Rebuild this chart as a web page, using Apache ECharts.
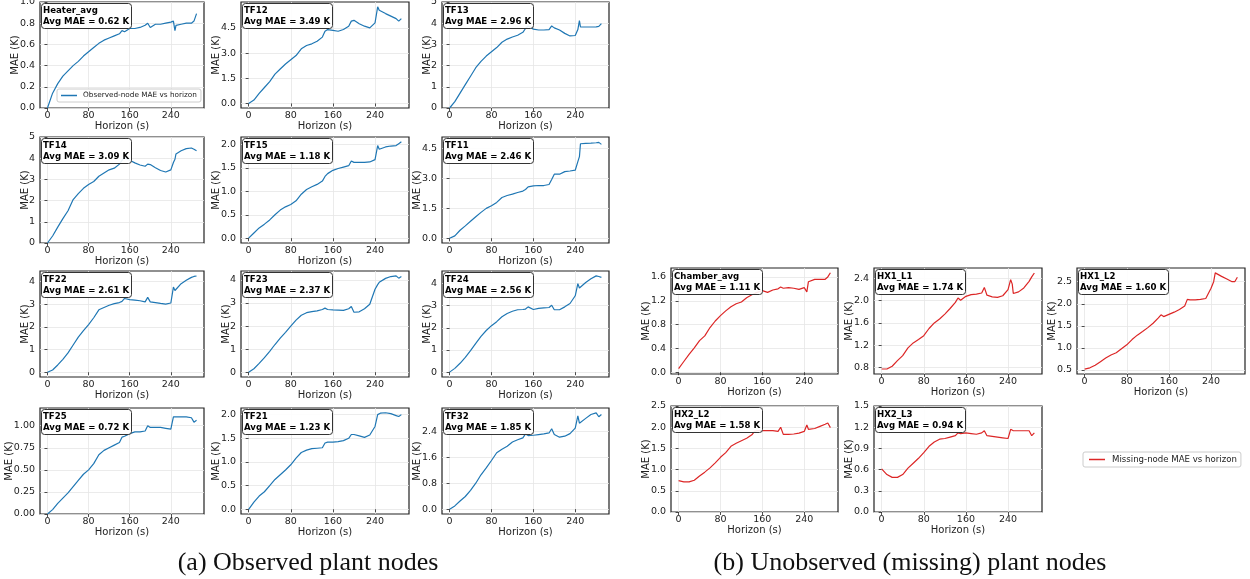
<!DOCTYPE html>
<html>
<head>
<meta charset="utf-8">
<title>MAE vs horizon</title>
<script src="https://cdn.jsdelivr.net/npm/echarts@6.0.0/dist/echarts.min.js"></script>
<style>
  html, body { margin: 0; padding: 0; background: #fff; }
  #chart { width: 1250px; height: 579px; }
</style>
</head>
<body>
<div id="chart"></div>
<script>
// horizon in seconds, shared by every panel
var horizon = [0, 10, 20, 30, 40, 50, 60, 70, 80, 90, 100, 110, 120, 130, 140, 145, 150, 160, 170, 180,
  190, 195, 200, 210, 220, 230, 240, 245, 248, 250, 260, 270, 280, 285, 290];
var xTicks = [0, 80, 160, 240];

// observed nodes
var heaterAvg = [0, 0.14, 0.23, 0.30, 0.35, 0.40, 0.44, 0.49, 0.53, 0.57, 0.61, 0.64, 0.66, 0.68, 0.70, 0.73, 0.72, 0.75, 0.75, 0.76,
  0.78, 0.80, 0.76, 0.79, 0.79, 0.80, 0.81, 0.82, 0.73, 0.78, 0.79, 0.80, 0.80, 0.82, 0.89];
var tf12 = [0, 0.2, 0.6, 0.95, 1.3, 1.75, 2.05, 2.35, 2.6, 2.85, 3.25, 3.45, 3.55, 3.7, 3.95, 4.3, 4.4, 4.35, 4.3, 4.4,
  4.6, 4.9, 4.95, 4.75, 4.6, 4.5, 4.8, 5.75, 5.55, 5.5, 5.35, 5.2, 5.05, 4.9, 5.05];
var tf13 = [0, 0.3, 0.7, 1.1, 1.5, 1.9, 2.2, 2.45, 2.65, 2.85, 3.1, 3.25, 3.35, 3.43, 3.57, 3.75, 3.87, 3.72, 3.68, 3.68,
  3.7, 3.87, 3.78, 3.68, 3.52, 3.4, 3.42, 3.7, 4.12, 3.82, 3.82, 3.82, 3.83, 3.85, 3.98];
var tf14 = [0, 0.33, 0.75, 1.15, 1.52, 2.05, 2.33, 2.58, 2.76, 2.9, 3.15, 3.3, 3.45, 3.53, 3.72, 3.9, 4.05, 3.9, 3.78, 3.68,
  3.62, 3.72, 3.7, 3.55, 3.42, 3.35, 3.45, 3.8, 3.95, 4.2, 4.35, 4.45, 4.48, 4.42, 4.35];
var tf15 = [0, 0.11, 0.22, 0.3, 0.39, 0.5, 0.6, 0.67, 0.72, 0.8, 0.94, 1.04, 1.1, 1.15, 1.22, 1.32, 1.38, 1.45, 1.49, 1.52,
  1.55, 1.65, 1.62, 1.62, 1.62, 1.63, 1.68, 1.98, 1.9, 1.92, 1.95, 1.97, 1.98, 2.02, 2.06];
var tf11 = [0, 0.12, 0.4, 0.62, 0.85, 1.08, 1.3, 1.5, 1.63, 1.8, 2.05, 2.15, 2.22, 2.3, 2.37, 2.45, 2.58, 2.63, 2.65, 2.65,
  2.7, 2.95, 3.22, 3.22, 3.35, 3.38, 3.42, 3.85, 4.1, 4.75, 4.77, 4.78, 4.8, 4.82, 4.72];
var tf22 = [0, 0.1, 0.32, 0.57, 0.85, 1.2, 1.55, 1.83, 2.1, 2.4, 2.75, 2.85, 2.95, 3.02, 3.07, 3.12, 3.25, 3.2, 3.18, 3.15,
  3.1, 3.3, 3.1, 3.07, 3.03, 3.0, 3.05, 3.75, 3.6, 3.55, 3.9, 4.05, 4.18, 4.22, 4.24];
var tf23 = [0, 0.15, 0.38, 0.63, 0.9, 1.2, 1.48, 1.73, 2.0, 2.26, 2.47, 2.58, 2.63, 2.66, 2.72, 2.78, 2.72, 2.7, 2.69, 2.68,
  2.75, 2.85, 2.6, 2.62, 2.75, 2.95, 3.6, 3.8, 3.9, 3.95, 4.07, 4.15, 4.18, 4.08, 4.15];
var tf24 = [0, 0.17, 0.4, 0.67, 0.97, 1.3, 1.62, 1.88, 2.1, 2.28, 2.5, 2.65, 2.75, 2.82, 2.83, 2.85, 2.95, 2.83, 2.88, 2.9,
  2.92, 3.02, 2.82, 2.82, 2.95, 3.1, 3.45, 4.0, 3.8, 3.85, 4.05, 4.22, 4.35, 4.32, 4.28];
var tf25 = [0, 0.05, 0.12, 0.18, 0.24, 0.31, 0.38, 0.45, 0.5, 0.57, 0.67, 0.72, 0.75, 0.78, 0.81, 0.87, 0.88, 0.91, 0.93, 0.93,
  0.94, 1.0, 0.98, 0.98, 0.98, 0.97, 0.96, 1.1, 1.09, 1.1, 1.1, 1.1, 1.09, 1.04, 1.06];
var tf21 = [0, 0.15, 0.28, 0.37, 0.5, 0.63, 0.73, 0.83, 0.94, 1.08, 1.2, 1.25, 1.28, 1.29, 1.3, 1.4, 1.42, 1.42, 1.43, 1.45,
  1.5, 1.58, 1.58, 1.55, 1.52, 1.57, 1.75, 2.0, 2.02, 2.03, 2.04, 2.02, 1.98, 1.96, 2.0];
var tf32 = [0, 0.1, 0.25, 0.39, 0.58, 0.8, 1.06, 1.27, 1.5, 1.74, 1.85, 1.94, 2.07, 2.14, 2.2, 2.32, 2.27, 2.28, 2.3, 2.32,
  2.35, 2.48, 2.3, 2.22, 2.25, 2.33, 2.5, 2.88, 2.65, 2.65, 2.8, 2.92, 2.97, 2.85, 2.92];

// unobserved (missing) nodes
var chamberAvg = [0.06, 0.18, 0.3, 0.41, 0.53, 0.61, 0.75, 0.86, 0.95, 1.03, 1.1, 1.15, 1.18, 1.25, 1.3, 1.32, 1.34, 1.37, 1.34, 1.38,
  1.4, 1.43, 1.41, 1.42, 1.41, 1.39, 1.42, 1.35, 1.52, 1.55, 1.56, 1.56, 1.56, 1.6, 1.67];
var hx1L1 = [0.77, 0.77, 0.82, 0.92, 1.01, 1.15, 1.24, 1.3, 1.37, 1.5, 1.6, 1.67, 1.76, 1.86, 1.97, 2.05, 2.01, 2.08, 2.11, 2.12,
  2.14, 2.24, 2.1, 2.07, 2.06, 2.09, 2.2, 2.38, 2.3, 2.13, 2.16, 2.23, 2.35, 2.43, 2.5];
var hx1L2 = [0.52, 0.55, 0.61, 0.69, 0.77, 0.84, 0.89, 0.98, 1.07, 1.19, 1.29, 1.37, 1.46, 1.56, 1.68, 1.75, 1.71, 1.76, 1.81, 1.87,
  1.95, 2.1, 2.09, 2.09, 2.1, 2.12, 2.35, 2.5, 2.7, 2.67, 2.62, 2.56, 2.5, 2.5, 2.6];
var hx2L2 = [0.74, 0.71, 0.71, 0.75, 0.85, 0.94, 1.04, 1.16, 1.29, 1.4, 1.55, 1.62, 1.68, 1.74, 1.82, 1.9, 1.92, 1.92, 1.92, 1.92,
  1.9, 2.0, 1.83, 1.83, 1.84, 1.86, 1.9, 2.05, 1.95, 1.93, 1.97, 2.02, 2.07, 2.1, 1.99];
var hx2L3 = [0.61, 0.53, 0.49, 0.49, 0.53, 0.62, 0.69, 0.76, 0.84, 0.93, 0.99, 1.03, 1.04, 1.06, 1.08, 1.12, 1.11, 1.12, 1.11, 1.1,
  1.12, 1.15, 1.08, 1.07, 1.06, 1.05, 1.04, 1.17, 1.15, 1.15, 1.15, 1.15, 1.15, 1.08, 1.12];

var obsName = 'Observed-node MAE vs horizon';
var misName = 'Missing-node MAE vs horizon';

var panels = [
  { name: 'Heater_avg', avg: '0.62', data: heaterAvg, ticks: [0, 0.2, 0.4, 0.6, 0.8, 1.0], dec: 1, range: [0, 1], grp: 'obs', col: 0, row: 0 },
  { name: 'TF12', avg: '3.49', data: tf12, ticks: [0, 1.5, 3, 4.5], dec: 1, range: [-0.27, 6.04], grp: 'obs', col: 1, row: 0 },
  { name: 'TF13', avg: '2.96', data: tf13, ticks: [0, 1, 2, 3, 4, 5], dec: 0, range: [0, 5], grp: 'obs', col: 2, row: 0 },
  { name: 'TF14', avg: '3.09', data: tf14, ticks: [0, 1, 2, 3, 4, 5], dec: 0, range: [0, 5], grp: 'obs', col: 0, row: 1 },
  { name: 'TF15', avg: '1.18', data: tf15, ticks: [0, 0.5, 1, 1.5, 2], dec: 1, range: [-0.103, 2.163], grp: 'obs', col: 1, row: 1 },
  { name: 'TF11', avg: '2.46', data: tf11, ticks: [0, 1.5, 3, 4.5], dec: 1, range: [-0.24, 5.09], grp: 'obs', col: 2, row: 1 },
  { name: 'TF22', avg: '2.61', data: tf22, ticks: [0, 1, 2, 3, 4], dec: 0, range: [-0.21, 4.46], grp: 'obs', col: 0, row: 2 },
  { name: 'TF23', avg: '2.37', data: tf23, ticks: [0, 1, 2, 3, 4], dec: 0, range: [-0.21, 4.39], grp: 'obs', col: 1, row: 2 },
  { name: 'TF24', avg: '2.56', data: tf24, ticks: [0, 1, 2, 3, 4], dec: 0, range: [-0.22, 4.57], grp: 'obs', col: 2, row: 2 },
  { name: 'TF25', avg: '0.72', data: tf25, ticks: [0, 0.25, 0.5, 0.75, 1], dec: 2, range: [0, 1.2], grp: 'obs', col: 0, row: 3 },
  { name: 'TF21', avg: '1.23', data: tf21, ticks: [0, 0.5, 1, 1.5, 2], dec: 1, range: [-0.1, 2.14], grp: 'obs', col: 1, row: 3 },
  { name: 'TF32', avg: '1.85', data: tf32, ticks: [0, 0.8, 1.6, 2.4], dec: 1, range: [-0.15, 3.12], grp: 'obs', col: 2, row: 3 },
  { name: 'Chamber_avg', avg: '1.11', data: chamberAvg, ticks: [0, 0.4, 0.8, 1.2, 1.6], dec: 1, range: [-0.03, 1.75], grp: 'mis', col: 0, row: 0 },
  { name: 'HX1_L1', avg: '1.74', data: hx1L1, ticks: [0.8, 1.2, 1.6, 2.0, 2.4], dec: 1, range: [0.68, 2.59], grp: 'mis', col: 1, row: 0 },
  { name: 'HX1_L2', avg: '1.60', data: hx1L2, ticks: [0.5, 1, 1.5, 2, 2.5], dec: 1, range: [0.41, 2.81], grp: 'mis', col: 2, row: 0 },
  { name: 'HX2_L2', avg: '1.58', data: hx2L2, ticks: [0, 0.5, 1, 1.5, 2, 2.5], dec: 1, range: [0, 2.5], grp: 'mis', col: 0, row: 1 },
  { name: 'HX2_L3', avg: '0.94', data: hx2L3, ticks: [0, 0.3, 0.6, 0.9, 1.2, 1.5], dec: 1, range: [0, 1.5], grp: 'mis', col: 1, row: 1 }
];

// layout of the two panel blocks (px)
var layout = {
  obs: { cols: [[40, 164], [241, 168], [442, 167]], rows: [2, 137, 271, 408], color: '#1f77b4', series: obsName },
  mis: { cols: [[671, 167], [874, 168], [1077, 168]], rows: [268, 406], color: '#dc2626', series: misName }
};
var panelH = 106;
var font = 'DejaVu Sans';
var ink = '#222';
var gridColor = '#e6e6e6';
var tickSize = 9.5;
var xMin = -0.05 * horizon[horizon.length - 1];
var xMax = 1.05 * horizon[horizon.length - 1];

function labelWidth(s, size) {
  var w = 0;
  for (var k = 0; k < s.length; k++) w += (s[k] === '.' ? 0.318 : 0.636);
  return w * size;
}

var option = {
  animation: false,
  backgroundColor: '#fff',
  grid: [], xAxis: [], yAxis: [], series: [], title: [],
  legend: [],
  graphic: []
};

panels.forEach(function(p, i) {
  var L = layout[p.grp];
  var left = L.cols[p.col][0], width = L.cols[p.col][1], top = L.rows[p.row];
  option.grid.push({
    left: left, top: top, width: width, height: panelH,
    show: true, borderColor: '#222', borderWidth: 1.2, backgroundColor: 'transparent',
    containLabel: false, outerBoundsMode: 'none'
  });
  option.xAxis.push({
    type: 'value', gridIndex: i, min: xMin, max: xMax,
    name: 'Horizon (s)', nameLocation: 'middle', nameGap: 13, nameMoveOverlap: false,
    nameTextStyle: { fontSize: 10, color: ink, fontFamily: font },
    axisLine: { show: false },
    axisTick: { show: true, length: 3, customValues: xTicks, lineStyle: { color: '#222', width: 0.8 } },
    axisLabel: { customValues: xTicks, fontSize: tickSize, margin: 3, color: ink, fontFamily: font },
    splitLine: { show: true, lineStyle: { color: gridColor, width: 0.8 } }
  });
  var maxW = 0;
  p.ticks.forEach(function(t) { maxW = Math.max(maxW, labelWidth(t.toFixed(p.dec), tickSize)); });
  option.yAxis.push({
    type: 'value', gridIndex: i, min: p.range[0], max: p.range[1],
    name: 'MAE (K)', nameLocation: 'middle', nameGap: maxW + 4, nameMoveOverlap: false,
    nameTextStyle: { fontSize: 10, color: ink, fontFamily: font },
    axisLine: { show: false },
    axisTick: { show: true, length: 3, customValues: p.ticks, lineStyle: { color: '#222', width: 0.8 } },
    axisLabel: {
      customValues: p.ticks, fontSize: tickSize, margin: 5, color: ink, fontFamily: font,
      formatter: (function(dec) { return function(v) { return Number(v).toFixed(dec); }; })(p.dec)
    },
    splitLine: { show: true, lineStyle: { color: gridColor, width: 0.8 } }
  });
  option.series.push({
    type: 'line', name: L.series, xAxisIndex: i, yAxisIndex: i,
    data: horizon.map(function(h, k) { return [h, p.data[k]]; }),
    symbol: 'none', showSymbol: false,
    lineStyle: { color: L.color, width: 1.2 }, itemStyle: { color: L.color },
    z: 3
  });
  option.title.push({
    text: p.name + '\nAvg MAE = ' + p.avg + ' K',
    left: left + 1, top: top + 1,
    padding: [2, 3, 2, 2],
    backgroundColor: 'rgba(255,255,255,0.9)',
    borderColor: '#333', borderWidth: 1, borderRadius: 3,
    textStyle: { fontSize: 8.6, fontWeight: 'bold', lineHeight: 11, color: '#000', fontFamily: font },
    z: 10
  });
});

option.legend.push({
  data: [obsName], left: 57, top: 89, selectedMode: false,
  padding: [3, 4, 3, 4], itemWidth: 16, itemHeight: 1.5, icon: 'rect', itemGap: 4,
  backgroundColor: 'rgba(255,255,255,0.85)', borderColor: '#ccc', borderWidth: 1, borderRadius: 2,
  textStyle: { fontSize: 7.3, color: ink, fontFamily: font, padding: [0, 0, 0, 1] }
});
option.legend.push({
  data: [misName], left: 1083, top: 452, selectedMode: false,
  padding: [3, 4, 3, 6], itemWidth: 16, itemHeight: 1.5, icon: 'rect', itemGap: 4,
  backgroundColor: '#fff', borderColor: '#ccc', borderWidth: 1, borderRadius: 2,
  textStyle: { fontSize: 8.6, color: ink, fontFamily: font, padding: [0, 0, 0, 2] }
});

option.graphic.push({
  type: 'text', x: 308, y: 563,
  style: { text: '(a) Observed plant nodes', fontSize: 26, fontFamily: 'Liberation Serif', fill: '#111', align: 'center', verticalAlign: 'middle' }
});
option.graphic.push({
  type: 'text', x: 910, y: 563,
  style: { text: '(b) Unobserved (missing) plant nodes', fontSize: 26, fontFamily: 'Liberation Serif', fill: '#111', align: 'center', verticalAlign: 'middle' }
});

var chart = echarts.init(document.getElementById('chart'), null, { renderer: 'canvas' });
chart.setOption(option);
window.addEventListener('resize', function() { chart.resize(); });
</script>
</body>
</html>
